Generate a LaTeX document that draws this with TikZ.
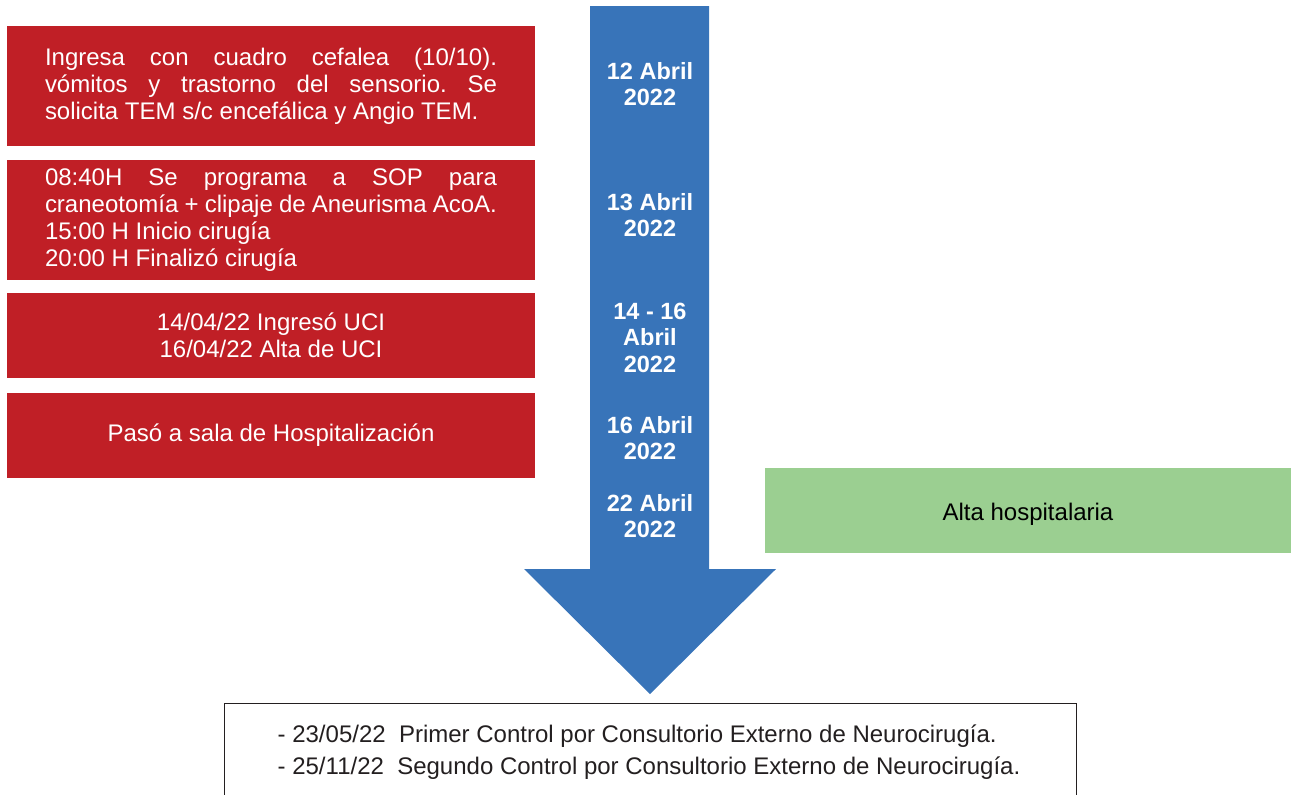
\documentclass[tikz,border=0pt]{standalone}
\usepackage{fontspec}
\setmainfont{Liberation Sans}
\definecolor{boxred}{RGB}{192,31,38}
\definecolor{arrowblue}{RGB}{56,116,185}
\definecolor{boxgreen}{RGB}{155,207,145}
\definecolor{textdark}{RGB}{35,31,32}
\newcommand\myNoHyph{\hyphenpenalty=10000 \exhyphenpenalty=10000 \frenchspacing}
\begin{document}
\begin{tikzpicture}[x=1pt,y=-1pt,
  redbox/.style={fill=boxred, draw=none, text=white, minimum width=528pt, inner sep=0pt,
    font=\fontsize{24}{27}\selectfont},
  justtext/.style={text width=452pt, align=justify},
  datelabel/.style={text=white, align=center, inner sep=0pt,
    font=\fontsize{23.5}{26.5}\selectfont\bfseries},
  greenbox/.style={fill=boxgreen, draw=none, minimum width=526pt, minimum height=85pt, inner sep=0pt},
  followbox/.style={draw=textdark, line width=1pt, minimum width=852pt, minimum height=140pt, inner sep=0pt}
]
\path[use as bounding box, clip] (0,0) rectangle (1291,795);

% timeline arrow
\fill[arrowblue] (590,6) -- (709,6) -- (709,569) -- (776,569) -- (650,694) -- (524,569) -- (590,569) -- cycle;

% red boxes
\node[redbox, minimum height=120pt, justtext] (b1) at (271,86)
  {\myNoHyph Ingresa con cuadro cefalea (10/10).\linebreak vómitos y trastorno del sensorio. Se\linebreak solicita TEM s/c encefálica y Angio TEM.};
\node[redbox, minimum height=120pt, justtext] (b2) at (271,220)
  {\myNoHyph 08:40H Se programa a SOP para\linebreak craneotomía + clipaje de Aneurisma AcoA.\\15:00 H Inicio cirugía\\20:00 H Finalizó cirugía};
\node[redbox, minimum height=85pt, align=center] (b3) at (271,335.5)
  {14/04/22 Ingresó UCI\\16/04/22 Alta de UCI};
\node[redbox, minimum height=85pt, align=center] (b4) at (271,435.5)
  {Pasó a sala de Hospitalización};

% green box
\node[greenbox] (b5) at (1028,510.5) {};
\node[inner sep=0pt, font=\fontsize{24}{27}\selectfont] (t5) at (1028,514) {Alta hospitalaria};

% dates
\node[datelabel] (d1) at (650,84) {12 Abril\\2022};
\node[datelabel] (d2) at (650,215) {13 Abril\\2022};
\node[datelabel] (d3) at (650,337.5) {14 - 16\\Abril\\2022};
\node[datelabel] (d4) at (650,438) {16 Abril\\2022};
\node[datelabel] (d5) at (650,516) {22 Abril\\2022};

% follow-up box
\node[followbox, anchor=north] (fb) at (650,703) {};
\node[text=textdark, align=left, inner sep=0pt, font=\fontsize{24}{32}\selectfont] (ft) at (649,752)
  {- 23/05/22\ \ Primer Control por Consultorio Externo de Neurocirugía.\\
   - 25/11/22\ \ Segundo Control por Consultorio Externo de Neurocirugía.};
\end{tikzpicture}
\end{document}
